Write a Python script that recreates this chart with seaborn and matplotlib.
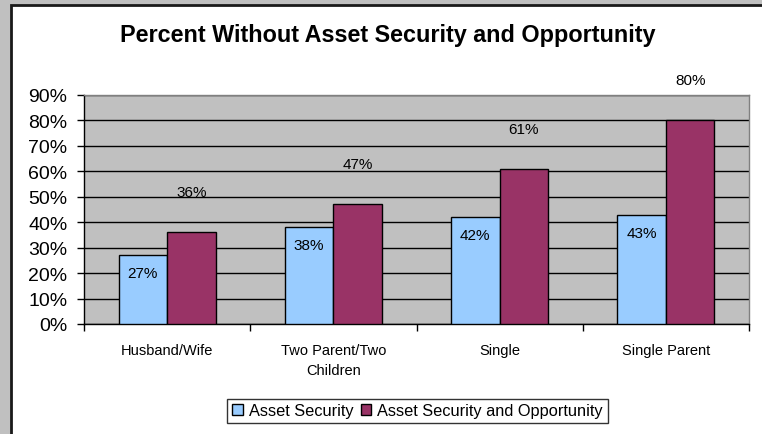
import matplotlib
matplotlib.use("Agg")
import matplotlib.pyplot as plt
from matplotlib.patches import Rectangle, Patch
from matplotlib.ticker import FuncFormatter, FixedLocator
import seaborn as sns
import pandas as pd

# Household types and the two measures (percent of households)
categories = ["Husband/Wife", "Two Parent/Two\nChildren", "Single", "Single Parent"]
series_names = ["Asset Security", "Asset Security and Opportunity"]
asset_security = [27, 38, 42, 43]
security_and_opportunity = [36, 47, 61, 80]
y_ticks = [0, 10, 20, 30, 40, 50, 60, 70, 80, 90]

colors = ["#99CCFF", "#993366"]

df = pd.DataFrame({
    "category": categories * 2,
    "series": [series_names[0]] * len(categories) + [series_names[1]] * len(categories),
    "value": asset_security + security_and_opportunity,
})

sns.set_theme(style="white")
plt.rcParams["font.family"] = ["Liberation Sans", "DejaVu Sans"]
plt.rcParams["text.color"] = "black"
plt.rcParams["xtick.color"] = "black"
plt.rcParams["ytick.color"] = "black"
plt.rcParams["xtick.labelcolor"] = "black"
plt.rcParams["ytick.labelcolor"] = "black"

W, H = 762, 435
fig = plt.figure(figsize=(W / 100, H / 100), dpi=100, facecolor="#C0C0C0")

# White chart area with a dark border on the left and top
fig.patches.append(Rectangle((11 / W, -0.05), 1.2, 1.05 - 6 / H,
                             transform=fig.transFigure, facecolor="white",
                             edgecolor="#1a1a1a", linewidth=2, zorder=-1))

ax = fig.add_axes([84 / W, (H - 325) / H, (749 - 84) / W, (325 - 96) / H])
ax.set_facecolor("#C0C0C0")

sns.barplot(data=df, x="category", y="value", hue="series", order=categories,
            hue_order=series_names, palette=colors, width=0.584,
            edgecolor="black", linewidth=1.0, saturation=1, ax=ax, legend=False,
            zorder=3)

ax.set_ylim(0, 90)
ax.set_xlim(-0.5, len(categories) - 0.5)
ax.yaxis.set_major_locator(FixedLocator(y_ticks))
ax.yaxis.set_major_formatter(FuncFormatter(lambda v, p: f"{v:.0f}%"))
ax.grid(axis="y", color="black", linewidth=1.0, zorder=1)
ax.set_axisbelow(True)
ax.set_xlabel("")
ax.set_ylabel("")

for side in ["top", "right"]:
    ax.spines[side].set_color("#808080")
    ax.spines[side].set_linewidth(1.0)
for side in ["left", "bottom"]:
    ax.spines[side].set_color("black")
    ax.spines[side].set_linewidth(1.0)

ax.tick_params(axis="y", direction="out", length=5, width=1, color="black",
               labelsize=14, pad=7, left=True)
ax.tick_params(axis="x", which="major", length=0, labelsize=10.5, pad=13.5)
ax.set_xticks([i - 0.5 for i in range(len(categories) + 1)], minor=True)
ax.tick_params(axis="x", which="minor", direction="out", length=5, width=1,
               color="black", bottom=True)
for lbl in ax.get_xticklabels():
    lbl.set_linespacing(1.6)

# Value labels: first series inside the bar top, second series above the bar
offsets = [-13, 29]
for container, off in zip(ax.containers, offsets):
    for bar in container:
        v = bar.get_height()
        ax.annotate(f"{v:.0f}%", (bar.get_x() + bar.get_width() / 2, v),
                    xytext=(0, off), textcoords="offset points",
                    ha="center", va="center", fontsize=11, color="black",
                    zorder=5, annotation_clip=False)

fig.text(388 / W, 1 - 36 / H, "Percent Without Asset Security and Opportunity",
         ha="center", va="center", fontsize=16.8, fontweight="bold", color="black")

handles = [Patch(facecolor=c, edgecolor="black", linewidth=1) for c in colors]
leg = fig.legend(handles, series_names, loc="center",
                 bbox_to_anchor=(417.5 / W, (H - 412) / H), ncol=2,
                 frameon=True, fontsize=11.8, handlelength=0.65, handleheight=0.65,
                 handletextpad=0.35, columnspacing=0.45, borderpad=0.3,
                 borderaxespad=0, fancybox=False, edgecolor="black",
                 facecolor="white")
leg.get_frame().set_linewidth(1.0)

fig.savefig("out.png", dpi=100, facecolor=fig.get_facecolor())
